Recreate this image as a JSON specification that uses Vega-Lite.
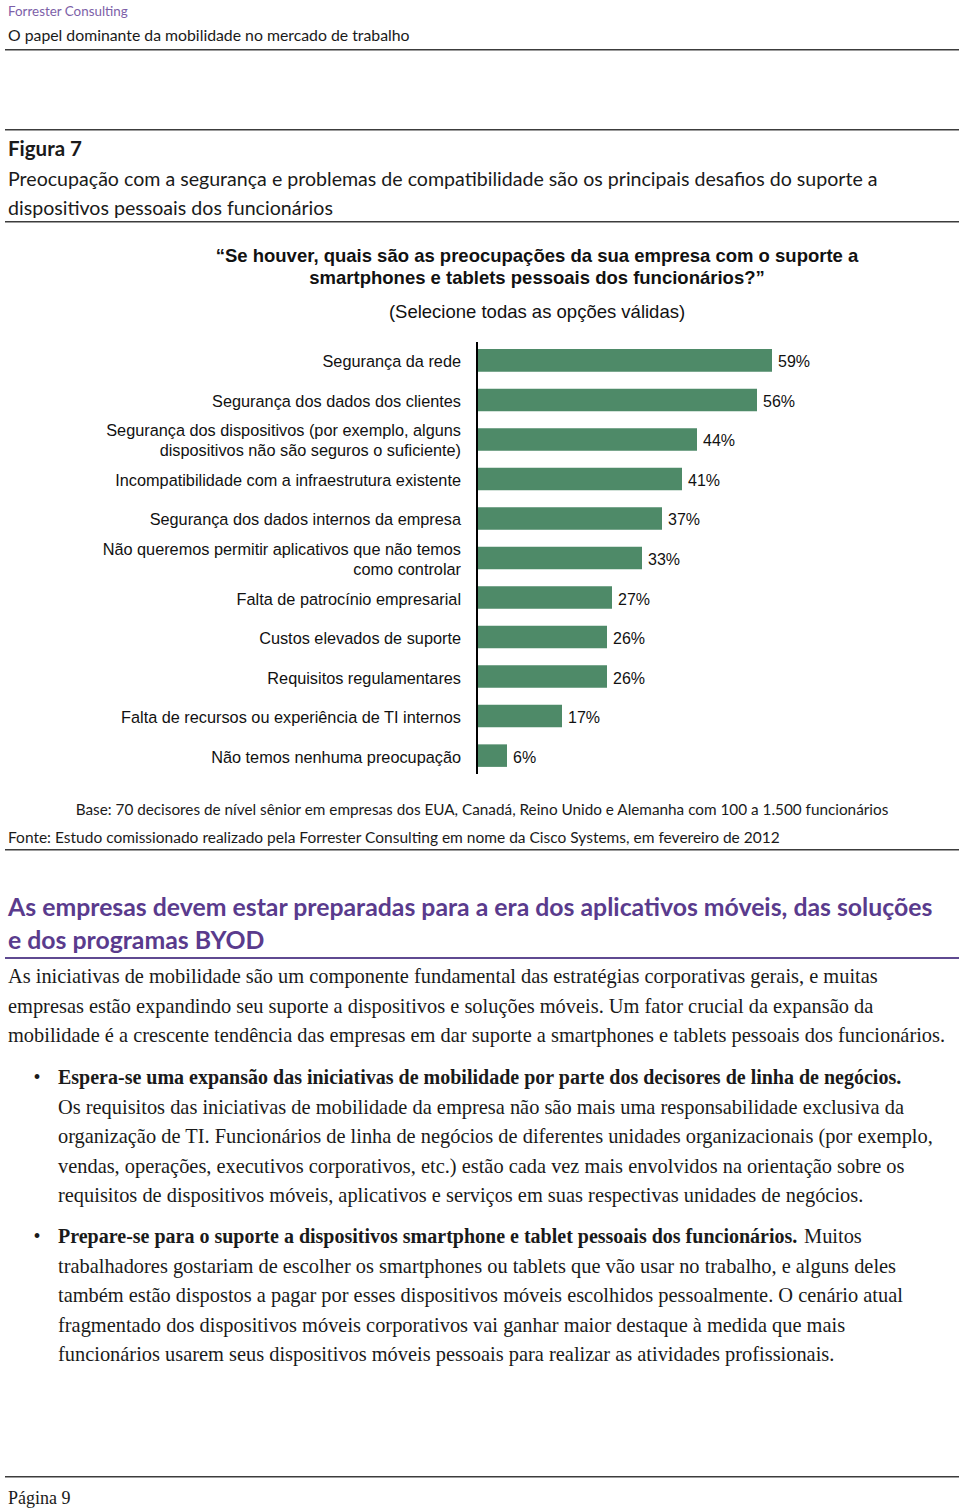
{
  "$schema": "https://vega.github.io/schema/vega-lite/v6.json",
  "padding": {"left": 5, "top": 0, "right": 1, "bottom": 0},
  "autosize": {"type": "pad"},
  "bounds": "flush",
  "spacing": 0,
  "config": {
    "view": {"stroke": null},
    "font": "Lato",
    "title": {"anchor": "start", "baseline": "top", "font": "Lato", "color": "#1a1a1a", "fontWeight": "normal", "subtitleFont": "Lato", "subtitleColor": "#1a1a1a", "subtitleFontWeight": "normal", "dx": 3}
  },
  "vconcat": [
    {"width": 954, "height": 49, "data": {"values": []}, "mark": "point"},
    {"width": 954, "height": 1.5, "view": {"fill": "#3c3c3c", "stroke": null}, "data": {"values": []}, "mark": "point",
     "title": {"text": "Forrester Consulting", "subtitle": "O papel dominante da mobilidade no mercado de trabalho", "fontSize": 13.4, "color": "#7d5fa8", "subtitleFontSize": 15.8, "subtitlePadding": 10.1, "offset": 5.5}},
    {"width": 954, "height": 78, "data": {"values": []}, "mark": "point"},
    {"width": 954, "height": 1.5, "view": {"fill": "#3c3c3c", "stroke": null}, "data": {"values": []}, "mark": "point"},
    {"width": 954, "height": 90, "data": {"values": []}, "mark": "point"},
    {"width": 954, "height": 1.5, "view": {"fill": "#3c3c3c", "stroke": null}, "data": {"values": []}, "mark": "point",
     "title": {"text": "Figura 7", "subtitle": ["Preocupação com a segurança e problemas de compatibilidade são os principais desafios do suporte a", "dispositivos pessoais dos funcionários"], "fontSize": 20.5, "fontWeight": "bold", "subtitleFontSize": 19.6, "subtitleLineHeight": 29, "subtitlePadding": 10, "offset": 2.5}},
    {"width": 954, "height": 118.5, "data": {"values": []}, "mark": "point"},
    {"width": 954, "height": 432,
     "title": {"text": ["“Se houver, quais são as preocupações da sua empresa com o suporte a", "smartphones e tablets pessoais dos funcionários?”"], "subtitle": "(Selecione todas as opções válidas)", "anchor": "middle", "align": "center", "dx": 55, "font": "Liberation Sans", "fontSize": 18.5, "fontWeight": "bold", "lineHeight": 22, "color": "#111", "subtitleFont": "Liberation Sans", "subtitleFontSize": 18.5, "subtitleColor": "#111", "subtitlePadding": 15.5, "offset": 19.5},
     "data": {"values": [
       {"cat": "Segurança da rede", "v": 0.59},
       {"cat": "Segurança dos dados dos clientes", "v": 0.56},
       {"cat": "Segurança dos dispositivos (por exemplo, alguns\ndispositivos não são seguros o suficiente)", "v": 0.44},
       {"cat": "Incompatibilidade com a infraestrutura existente", "v": 0.41},
       {"cat": "Segurança dos dados internos da empresa", "v": 0.37},
       {"cat": "Não queremos permitir aplicativos que não temos\ncomo controlar", "v": 0.33},
       {"cat": "Falta de patrocínio empresarial", "v": 0.27},
       {"cat": "Custos elevados de suporte", "v": 0.26},
       {"cat": "Requisitos regulamentares", "v": 0.26},
       {"cat": "Falta de recursos ou experiência de TI internos", "v": 0.17},
       {"cat": "Não temos nenhuma preocupação", "v": 0.06}
     ]},
     "layer": [
       {"mark": {"type": "bar", "color": "#4e8a68"},
        "encoding": {
          "y": {"field": "cat", "type": "nominal", "sort": null, "axis": null, "scale": {"paddingInner": 0.43, "paddingOuter": 0.18}},
          "x": {"field": "v", "type": "quantitative", "axis": null, "scale": {"domain": [-0.944, 0.964], "nice": false}}
        }},
       {"mark": {"type": "rule", "color": "#000", "strokeWidth": 2},
        "encoding": {"x": {"datum": 0, "type": "quantitative"}}},
       {"transform": [{"filter": "indexof(datum.cat, '\\n') < 0"}],
        "mark": {"type": "text", "align": "right", "baseline": "middle", "dx": -16, "dy": 2, "font": "Liberation Sans", "fontSize": 16.3, "color": "#111"},
        "encoding": {
          "y": {"field": "cat", "type": "nominal", "sort": null},
          "x": {"datum": 0, "type": "quantitative"},
          "text": {"field": "cat", "type": "nominal"}
        }},
       {"transform": [{"filter": "indexof(datum.cat, '\\n') >= 0"}],
        "mark": {"type": "text", "align": "right", "baseline": "middle", "dx": -16, "dy": -8, "font": "Liberation Sans", "fontSize": 16.3, "lineBreak": "\n", "lineHeight": 19.5, "color": "#111"},
        "encoding": {
          "y": {"field": "cat", "type": "nominal", "sort": null},
          "x": {"datum": 0, "type": "quantitative"},
          "text": {"field": "cat", "type": "nominal"}
        }},
       {"mark": {"type": "text", "align": "left", "baseline": "middle", "dx": 6, "dy": 2, "font": "Liberation Sans", "fontSize": 16, "color": "#111"},
        "encoding": {
          "y": {"field": "cat", "type": "nominal", "sort": null},
          "x": {"field": "v", "type": "quantitative"},
          "text": {"field": "v", "type": "quantitative", "format": ".0%"}
        }}
     ]},
    {"width": 954, "height": 74.5, "data": {"values": []}, "mark": "point",
     "title": {"text": "Base: 70 decisores de nível sênior em empresas dos EUA, Canadá, Reino Unido e Alemanha com 100 a 1.500 funcionários", "anchor": "middle", "align": "center", "dx": 0, "fontSize": 15.3, "offset": -44.3}},
    {"width": 954, "height": 1.5, "view": {"fill": "#3c3c3c", "stroke": null}, "data": {"values": []}, "mark": "point",
     "title": {"text": "Fonte: Estudo comissionado realizado pela Forrester Consulting em nome da Cisco Systems, em fevereiro de 2012", "fontSize": 15.5, "offset": 3}},
    {"width": 954, "height": 106, "data": {"values": []}, "mark": "point"},
    {"width": 954, "height": 2, "view": {"fill": "#5f4a91", "stroke": null}, "data": {"values": []}, "mark": "point",
     "title": {"text": ["As empresas devem estar preparadas para a era dos aplicativos móveis, das soluções", "e dos programas BYOD"], "fontSize": 24.8, "fontWeight": "bold", "color": "#5a3b8d", "lineHeight": 33, "offset": 3}},
    {"width": 954, "height": 90, "data": {"values": []}, "mark": "point"},
    {"width": 954, "height": 160, "data": {"values": []}, "mark": "point",
     "title": {"text": ["As iniciativas de mobilidade são um componente fundamental das estratégias corporativas gerais, e muitas", "empresas estão expandindo seu suporte a dispositivos e soluções móveis. Um fator crucial da expansão da", "mobilidade é a crescente tendência das empresas em dar suporte a smartphones e tablets pessoais dos funcionários."], "font": "Liberation Serif", "fontSize": 20.4, "lineHeight": 29.5, "offset": 2.6}},
    {"width": 954, "height": 1, "data": {"values": []}, "mark": "point",
     "title": {"text": "Espera-se uma expansão das iniciativas de mobilidade por parte dos decisores de linha de negócios.", "subtitle": ["Os requisitos das iniciativas de mobilidade da empresa não são mais uma responsabilidade exclusiva da", "organização de TI. Funcionários de linha de negócios de diferentes unidades organizacionais (por exemplo,", "vendas, operações, executivos corporativos, etc.) estão cada vez mais envolvidos na orientação sobre os", "requisitos de dispositivos móveis, aplicativos e serviços em suas respectivas unidades de negócios."], "font": "Liberation Serif", "fontSize": 20, "fontWeight": "bold", "subtitleFont": "Liberation Serif", "subtitleFontSize": 20.4, "subtitleLineHeight": 29.5, "subtitlePadding": 9.5, "dx": 53, "offset": 2.6}},
    {"width": 954, "height": 1, "data": {"values": []}, "mark": "point",
     "title": {"text": "•", "font": "Liberation Serif", "fontSize": 20, "dx": 28.5, "offset": 122}},
    {"width": 954, "height": 158, "data": {"values": []}, "mark": "point",
     "title": {"text": "•", "font": "Liberation Serif", "fontSize": 20, "dx": 28.5, "offset": -36}},
    {"width": 954, "height": 1, "data": {"values": []}, "mark": "point",
     "title": {"text": "Prepare-se para o suporte a dispositivos smartphone e tablet pessoais dos funcionários.", "subtitle": ["trabalhadores gostariam de escolher os smartphones ou tablets que vão usar no trabalho, e alguns deles", "também estão dispostos a pagar por esses dispositivos móveis escolhidos pessoalmente. O cenário atual", "fragmentado dos dispositivos móveis corporativos vai ganhar maior destaque à medida que mais", "funcionários usarem seus dispositivos móveis pessoais para realizar as atividades profissionais."], "font": "Liberation Serif", "fontSize": 20, "fontWeight": "bold", "subtitleFont": "Liberation Serif", "subtitleFontSize": 20.4, "subtitleLineHeight": 29.5, "subtitlePadding": 9.5, "dx": 53, "offset": 3.6}},
    {"width": 954, "height": 106, "data": {"values": []}, "mark": "point",
     "title": {"text": "Muitos", "font": "Liberation Serif", "fontSize": 20.4, "dx": 799, "offset": 122.6}},
    {"width": 954, "height": 1.5, "view": {"fill": "#3c3c3c", "stroke": null}, "data": {"values": []}, "mark": "point"},
    {"width": 954, "height": 37.5, "data": {"values": []}, "mark": "point",
     "title": {"text": "Página 9", "font": "Liberation Serif", "fontSize": 18, "offset": -30}}
  ]
}
